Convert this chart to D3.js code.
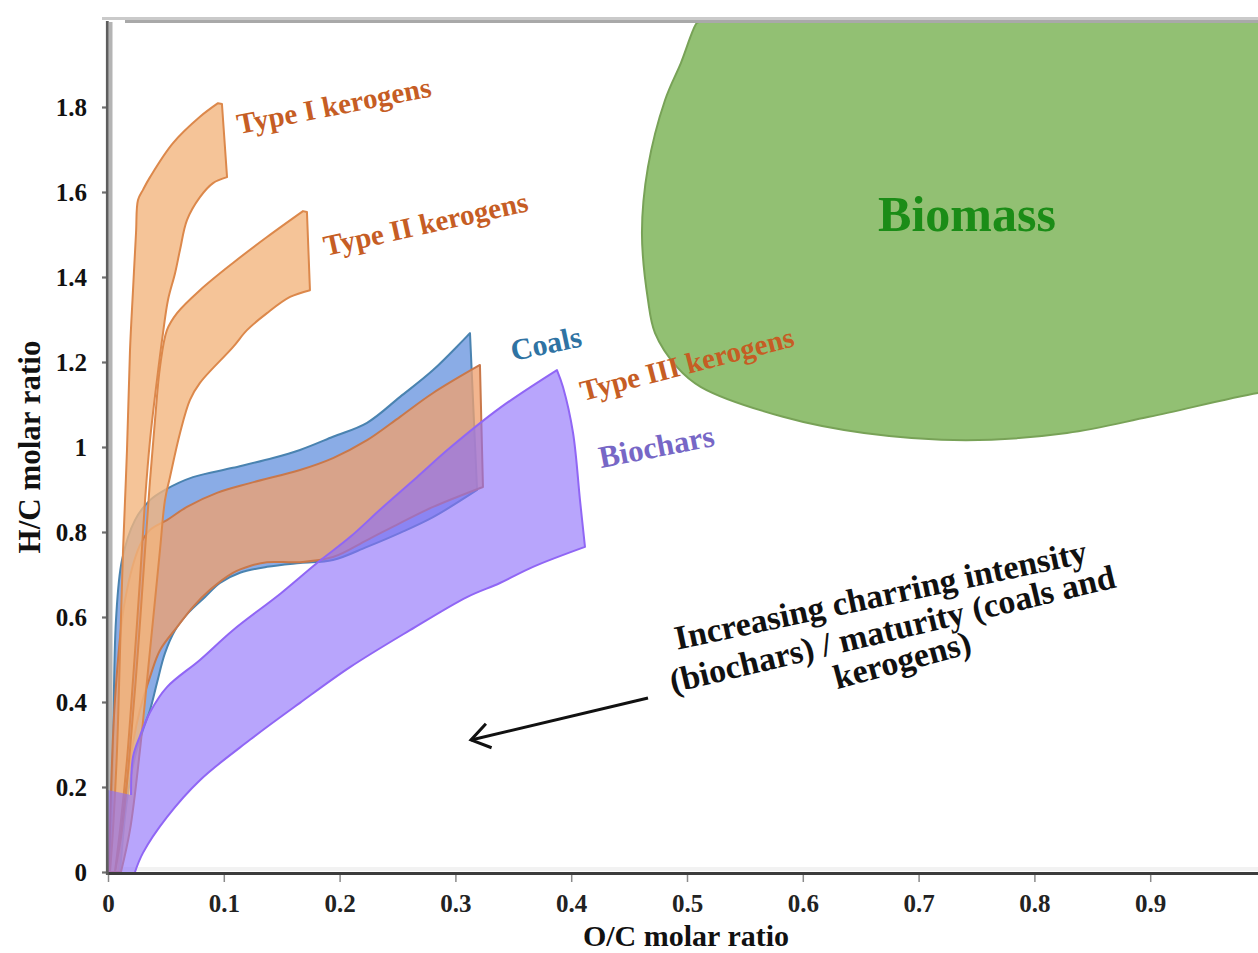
<!DOCTYPE html>
<html><head><meta charset="utf-8">
<script src="https://cdn.jsdelivr.net/npm/d3@7"></script>
<style>
html,body{margin:0;padding:0;background:#fff;overflow:hidden}
svg{display:block}
text{font-family:"Liberation Serif","Times New Roman",serif;font-weight:bold}
</style></head><body>
<svg id="chart" width="1258" height="953"></svg>
<script>
// ---------- DATA ----------
const xTicks = [0,0.1,0.2,0.3,0.4,0.5,0.6,0.7,0.8,0.9];
const xTickLabels = ["0","0.1","0.2","0.3","0.4","0.5","0.6","0.7","0.8","0.9"];
const yTicks = [0,0.2,0.4,0.6,0.8,1.0,1.2,1.4,1.6,1.8];
const yTickLabels = ["0","0.2","0.4","0.6","0.8","1","1.2","1.4","1.6","1.8"];
const seriesNames = ["Type I kerogens","Type II kerogens","Coals","Type III kerogens","Biochars","Biomass"];
const annotationLines = ["Increasing charring intensity","(biochars) / maturity (coals and","kerogens)"];

// region outlines as [O/C, H/C]
const typeIUpper = [[0.0017,0],[0.0043,0.099],[0.0078,0.287],[0.0104,0.522],[0.013,0.758],[0.0164,0.993],[0.019,1.228],[0.0216,1.369],[0.0242,1.504],[0.0259,1.581],[0.0302,1.605],[0.0363,1.635],[0.0561,1.715],[0.0794,1.777],[0.095,1.809]];
const typeICap = [[0.0984,1.807]];
const typeILower = [[0.1028,1.635],[0.0907,1.621],[0.0794,1.588],[0.0682,1.534],[0.0622,1.464],[0.0579,1.409],[0.0518,1.346],[0.0475,1.268],[0.0423,1.158],[0.0363,1.016],[0.032,0.875],[0.0276,0.687],[0.0216,0.452],[0.0164,0.264],[0.0104,0.099],[0.006,0]];

const typeIIUpper = [[0.006,0],[0.0121,0.099],[0.019,0.287],[0.0259,0.522],[0.032,0.758],[0.0363,0.922],[0.0406,1.064],[0.0449,1.188],[0.0509,1.275],[0.0596,1.315],[0.0794,1.369],[0.1079,1.433],[0.1373,1.494],[0.1684,1.555]];
const typeIICap = [[0.1718,1.553]];
const typeIILower = [[0.1744,1.369],[0.1572,1.353],[0.1373,1.315],[0.12,1.275],[0.1079,1.235],[0.0794,1.151],[0.0708,1.111],[0.0622,1.033],[0.0535,0.929],[0.0492,0.875],[0.0449,0.758],[0.0363,0.522],[0.0276,0.287],[0.019,0.099],[0.0112,0]];

const coalsUpper = [[0.0017,0],[0.0043,0.287],[0.0069,0.593],[0.0121,0.734],[0.0233,0.828],[0.0363,0.875],[0.0492,0.899],[0.0734,0.929],[0.1079,0.951],[0.1425,0.974],[0.1658,0.993],[0.1943,1.024],[0.2237,1.057],[0.2522,1.118],[0.2807,1.181],[0.3126,1.268]];
const coalsLower = [[0.3187,0.899],[0.2807,0.835],[0.2522,0.798],[0.2237,0.765],[0.1943,0.734],[0.1658,0.727],[0.1373,0.718],[0.114,0.704],[0.0967,0.68],[0.0838,0.647],[0.0691,0.609],[0.0579,0.569],[0.0492,0.515],[0.0423,0.445],[0.0363,0.381],[0.0302,0.334],[0.0233,0.271],[0.0164,0.169],[0.0104,0]];

const typeIIIUpper = [[0.0009,0],[0.006,0.405],[0.0147,0.64],[0.0276,0.769],[0.0363,0.805],[0.0509,0.828],[0.0682,0.859],[0.0941,0.892],[0.1226,0.915],[0.1658,0.946],[0.1943,0.974],[0.2237,1.016],[0.2522,1.071],[0.2807,1.127],[0.3212,1.193]];
const typeIIILower = [[0.3238,0.906],[0.2807,0.859],[0.2522,0.821],[0.2237,0.781],[0.1943,0.741],[0.1658,0.729],[0.1373,0.729],[0.1226,0.72],[0.1079,0.704],[0.0881,0.664],[0.0734,0.624],[0.0596,0.576],[0.0449,0.522],[0.0363,0.459],[0.0276,0.381],[0.0216,0.304],[0.0147,0.169],[0.0086,0]];

const biocharBase = [[0,0],[0,0.193],[0.0199,0.181]];
const biocharUpper = [[0.0199,0.181],[0.0216,0.271],[0.0276,0.32],[0.0363,0.376],[0.0509,0.435],[0.0794,0.499],[0.1079,0.569],[0.1494,0.656],[0.1805,0.727],[0.209,0.788],[0.2375,0.859],[0.2668,0.929],[0.2953,0.998],[0.3385,1.092],[0.3877,1.181]];
const biocharRight = [[0.3877,1.181],[0.3929,1.141],[0.4016,1.033],[0.4076,0.875],[0.4119,0.765]];
const biocharLower = [[0.4119,0.765],[0.367,0.718],[0.3385,0.68],[0.31,0.647],[0.2608,0.569],[0.209,0.482],[0.1658,0.398],[0.1226,0.311],[0.0794,0.216],[0.0509,0.129],[0.0302,0.045],[0.0233,0]];

const biomassEdge = [[0.511,2.0],[0.5086,1.998],[0.4948,1.904],[0.481,1.816],[0.4663,1.659],[0.4611,1.504],[0.4663,1.346],[0.4724,1.268],[0.4914,1.188],[0.5121,1.141],[0.5829,1.071],[0.6528,1.033],[0.7409,1.016],[0.8282,1.033],[0.899,1.071],[0.9931,1.127],[1.03,1.14]];
const biomassClose = [[1.03,2.0]];

// ---------- LAYOUT ----------
const x = d3.scaleLinear().domain([0,1]).range([108,1266]);
const y = d3.scaleLinear().domain([0,2]).range([872,22]);
const svg = d3.select('#chart');
const FONT = '"Liberation Serif","Times New Roman",serif';

const curveLine = d3.line().x(d=>x(d[0])).y(d=>y(d[1])).curve(d3.curveCatmullRom.alpha(0.5));
function regionPath(segs, close){
  let s='';
  segs.forEach((sg,i)=>{
    let p;
    if(sg.smooth){
      p=curveLine(sg.pts);
      if(i>0) p='L'+p.slice(1);
    } else {
      p=sg.pts.map((d,j)=>((i===0&&j===0)?'M':'L')+x(d[0])+','+y(d[1])).join('');
    }
    s+=p;
  });
  return close===false ? s : s+'Z';
}

// background strips of the axes
svg.append('rect').attr('x',108).attr('y',867).attr('width',1150).attr('height',4).attr('fill','#f2f2f2');
svg.append('rect').attr('x',109).attr('y',22).attr('width',3.5).attr('height',850).attr('fill','#b4b4b4');

svg.append('clipPath').attr('id','plotclip').append('rect')
  .attr('x',108).attr('y',22).attr('width',1160).attr('height',851);
const plot = svg.append('g').attr('clip-path','url(#plotclip)');

const peach = 'rgba(242,181,126,0.8)';
const regions = [
  {name:seriesNames[5], segs:[{pts:biomassEdge,smooth:true},{pts:biomassClose,smooth:false}], fill:'#92c073', stroke:'#78a257'},
  {name:seriesNames[2], segs:[{pts:coalsUpper,smooth:true},{pts:coalsLower,smooth:true}], fill:'#8aace6', stroke:'#4a83b0'},
  {name:seriesNames[3], segs:[{pts:typeIIIUpper,smooth:true},{pts:typeIIILower,smooth:true}], fill:'rgba(238,160,112,0.78)', stroke:'#c9784a'},
  {name:seriesNames[1], segs:[{pts:typeIIUpper,smooth:true},{pts:typeIICap,smooth:false},{pts:typeIILower,smooth:true}], fill:peach, stroke:'#dc884b'},
  {name:seriesNames[0], segs:[{pts:typeIUpper,smooth:true},{pts:typeICap,smooth:false},{pts:typeILower,smooth:true}], fill:peach, stroke:'#dc884b'},
  {name:seriesNames[4], segs:[{pts:biocharBase,smooth:false},{pts:biocharUpper,smooth:true},{pts:biocharRight,smooth:true},{pts:biocharLower,smooth:true}],
     strokeSegs:[{pts:biocharUpper,smooth:true},{pts:biocharRight,smooth:true},{pts:biocharLower,smooth:true}],
     fill:'rgba(140,110,250,0.62)', stroke:'#9066f5'}
];
regions.forEach(r=>{
  plot.append('path').attr('class','region')
    .attr('d',regionPath(r.segs))
    .attr('fill',r.fill)
    .attr('stroke',r.strokeSegs?'none':r.stroke)
    .attr('stroke-width',2).attr('stroke-linejoin','round');
  if(r.strokeSegs){
    plot.append('path').attr('d',regionPath(r.strokeSegs,false))
      .attr('fill','none').attr('stroke',r.stroke).attr('stroke-width',2).attr('stroke-linejoin','round');
  }
});

// top border
svg.append('rect').attr('x',102).attr('y',17).attr('width',1156).attr('height',3).attr('fill','#cacaca');
svg.append('rect').attr('x',125).attr('y',20).attr('width',1133).attr('height',3).attr('fill','#a9a9a9');

// axes
const yAxis = d3.axisLeft(y).tickValues(yTicks)
  .tickFormat(d=>yTickLabels[yTicks.indexOf(d)]).tickSizeInner(5).tickSizeOuter(0).tickPadding(15);
const gy = svg.append('g').attr('transform','translate(107,0)').call(yAxis)
  .attr('font-family',FONT).attr('font-size',25).attr('font-weight','bold');
gy.select('.domain').remove();
gy.selectAll('.tick line').attr('stroke','#707070').attr('stroke-width',2.2);
gy.selectAll('.tick text').attr('fill','#111');

const xAxis = d3.axisBottom(x).tickValues(xTicks)
  .tickFormat(d=>xTickLabels[xTicks.indexOf(d)]).tickSizeInner(9).tickSizeOuter(0).tickPadding(12);
const gx = svg.append('g').attr('transform','translate(0,873)').call(xAxis)
  .attr('font-family',FONT).attr('font-size',25).attr('font-weight','bold');
gx.select('.domain').remove();
gx.selectAll('.tick line').attr('stroke','#8a8a8a').attr('stroke-width',1.5);
gx.selectAll('.tick text').attr('fill','#222');

svg.append('line').attr('x1',106).attr('x2',1258).attr('y1',873.5).attr('y2',873.5)
  .attr('stroke','#3c3c3c').attr('stroke-width',3);
svg.append('line').attr('x1',107.3).attr('x2',107.3).attr('y1',21).attr('y2',875)
  .attr('stroke','#5e5e5e').attr('stroke-width',2.8);

// axis titles
svg.append('text').attr('transform','translate(40,447) rotate(-90)').attr('text-anchor','middle')
  .attr('font-size',31).attr('fill','#111').text('H/C molar ratio');
svg.append('text').attr('x',686).attr('y',946).attr('text-anchor','middle')
  .attr('font-size',30).attr('fill','#111').text('O/C molar ratio');

// region labels
const labelLayout = [
  {i:0, x:239, y:134, a:-11,   size:29, color:'#c65d24'},
  {i:1, x:326, y:256, a:-12.5, size:29, color:'#c65d24'},
  {i:2, x:513, y:361, a:-12,   size:30, color:'#2f73a3'},
  {i:3, x:583, y:401, a:-14.5, size:29, color:'#c65d24'},
  {i:4, x:601, y:468, a:-11,   size:31, color:'#7767c6'}
];
svg.selectAll('text.lab').data(labelLayout).enter().append('text').attr('class','lab')
  .attr('transform',d=>`translate(${d.x},${d.y}) rotate(${d.a})`)
  .attr('font-size',d=>d.size).attr('fill',d=>d.color).text(d=>seriesNames[d.i]);

svg.append('text').attr('x',967).attr('y',231).attr('text-anchor','middle')
  .attr('font-size',50).attr('fill','#1b8c17').text(seriesNames[5]);

// annotation text
const annLayout = [
  {cx:883, cy:606, a:-12},
  {cx:895, cy:640, a:-13.4},
  {cx:905, cy:671, a:-15}
];
svg.selectAll('text.ann').data(annotationLines).enter().append('text').attr('class','ann')
  .attr('transform',(d,i)=>`translate(${annLayout[i].cx},${annLayout[i].cy}) rotate(${annLayout[i].a})`)
  .attr('text-anchor','middle').attr('font-size',34).attr('fill','#111').text(d=>d);

// arrow
const arrowTail = [648,698], arrowTip = [471,740];
const ang = Math.atan2(arrowTail[1]-arrowTip[1], arrowTail[0]-arrowTip[0]);
const hl = 22, ha = 34*Math.PI/180;
const a1 = [arrowTip[0]+hl*Math.cos(ang-ha), arrowTip[1]+hl*Math.sin(ang-ha)];
const a2 = [arrowTip[0]+hl*Math.cos(ang+ha), arrowTip[1]+hl*Math.sin(ang+ha)];
svg.append('line').attr('x1',arrowTail[0]).attr('y1',arrowTail[1]).attr('x2',arrowTip[0]).attr('y2',arrowTip[1])
  .attr('stroke','#111').attr('stroke-width',3);
svg.append('path').attr('d',`M${a1[0]},${a1[1]}L${arrowTip[0]},${arrowTip[1]}L${a2[0]},${a2[1]}`)
  .attr('fill','none').attr('stroke','#111').attr('stroke-width',3);
</script>
</body></html>
